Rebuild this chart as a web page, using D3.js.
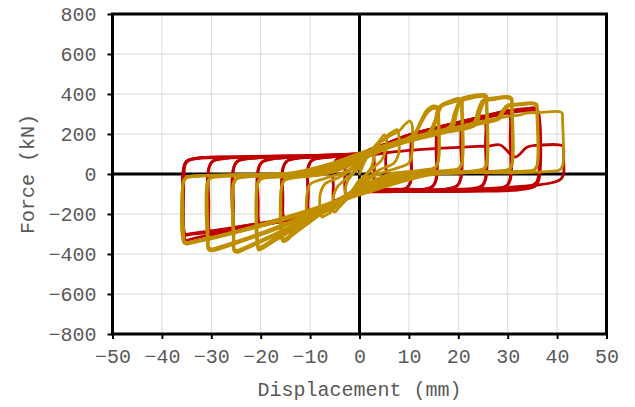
<!DOCTYPE html>
<html>
<head>
<meta charset="utf-8">
<script src="https://cdn.jsdelivr.net/npm/d3@7"></script>
<style>
  html, body { margin: 0; padding: 0; background: #fff; }
  svg { display: block; font-family: "Liberation Mono", "Courier New", monospace; }
</style>
</head>
<body>
<svg id="chart" width="635" height="407"></svg>
<script>
// Axis ticks
const xTicks = [-50, -40, -30, -20, -10, 0, 10, 20, 30, 40, 50];
const yTicks = [-800, -600, -400, -200, 0, 200, 400, 600, 800];

// Specimen A (red): displacement (mm), force (kN), one array per cycle
const redLoops = [
  [[0,95],[1.5,115],[2.5,125],[2.8,110],[2.8,-40],[2,-80],[0,-90],[-1.5,-110],[-2.5,-120],[-2.8,-105],[-2.8,40],[-2,80],[0,95]],
  [[0,95],[3,125],[4.5,138],[5.2,132],[5.3,60],[5.3,-40],[4.5,-75],[2,-87],[0,-90],[-3,-122],[-4.5,-140],[-5.2,-135],[-5.3,-60],[-5.3,40],[-4.5,75],[-2,86],[0,95]],
  [[0,95],[4,135],[8,178],[9.6,192],[10.3,185],[10.4,100],[10.4,-30],[9.6,-68],[7,-82],[0,-90],[-4,-130],[-8,-182],[-9.6,-198],[-10.3,-190],[-10.4,-100],[-10.4,30],[-9.6,68],[-7,82],[0,95]],
  [[0,100],[4,138],[8,172],[9.7,184],[10.3,176],[10.4,90],[10.4,-35],[9.5,-72],[6.5,-86],[0,-94],[-4,-135],[-8,-176],[-9.7,-190],[-10.3,-182],[-10.4,-90],[-10.4,35],[-9.5,72],[-6.5,86],[0,100]],
  [[0,95],[4,135],[10,195],[13.5,218],[15,226],[15.4,215],[15.5,120],[15.5,-25],[14.8,-62],[12.5,-78],[6,-86],[0,-90],[-4,-130],[-10,-200],[-13.5,-222],[-15,-232],[-15.4,-220],[-15.5,-120],[-15.5,25],[-14.8,62],[-12.5,78],[-6,86],[0,95]],
  [[0,100],[5,140],[10,186],[14,210],[15.2,214],[15.5,200],[15.5,-30],[14.6,-66],[12,-82],[5,-89],[0,-93],[-5,-142],[-10,-190],[-14,-214],[-15.2,-220],[-15.5,-205],[-15.5,30],[-14.6,66],[-12,82],[-5,90],[0,100]],
  [[0,95],[4,135],[10,195],[15,228],[18.5,250],[20,258],[20.4,245],[20.5,150],[20.5,-20],[19.8,-58],[17.5,-76],[10,-85],[0,-90],[-4,-130],[-10,-200],[-15,-232],[-18.5,-250],[-20,-258],[-20.4,-245],[-20.5,-150],[-20.5,20],[-19.8,58],[-17.5,76],[-10,86],[0,95]],
  [[0,100],[5,140],[10,190],[15,222],[19,245],[20.2,248],[20.5,230],[20.5,-25],[19.6,-62],[16,-80],[5,-88],[0,-92],[-5,-140],[-10,-192],[-15,-226],[-19,-246],[-20.2,-250],[-20.5,-230],[-20.5,25],[-19.6,62],[-16,80],[-5,90],[0,100]],
  [[0,95],[4,135],[10,195],[15,228],[20,258],[23.5,280],[25,290],[25.5,275],[25.5,150],[25.5,-20],[24.8,-58],[22,-76],[12,-84],[0,-90],[-4,-130],[-10,-200],[-15,-232],[-20,-256],[-23.5,-270],[-25,-278],[-25.4,-265],[-25.5,-150],[-25.5,25],[-24.8,62],[-22,78],[-12,86],[0,95]],
  [[0,102],[5,142],[10,188],[15,220],[20,250],[24,272],[25.2,278],[25.5,260],[25.5,-30],[24.5,-68],[21,-82],[10,-88],[0,-93],[-5,-140],[-10,-192],[-15,-225],[-20,-248],[-24,-262],[-25.2,-268],[-25.5,-250],[-25.5,30],[-24.5,66],[-21,80],[-10,88],[0,102]],
  [[0,95],[4,135],[10,195],[15,228],[20,258],[25,288],[28.5,310],[30,320],[30.5,305],[30.5,180],[30.5,-20],[29.8,-58],[27,-76],[15,-84],[0,-90],[-4,-130],[-10,-200],[-15,-232],[-20,-256],[-25,-278],[-28.5,-295],[-30,-302],[-30.4,-290],[-30.5,-150],[-30.5,25],[-29.8,62],[-27,78],[-15,86],[0,95]],
  [[0,100],[5,142],[10,190],[15,222],[20,252],[25,280],[29,300],[30.2,305],[30.5,285],[30.5,-30],[29.5,-68],[26,-82],[12,-88],[0,-93],[-5,-140],[-10,-194],[-15,-226],[-20,-250],[-25,-270],[-29,-286],[-30.2,-292],[-30.5,-275],[-30.5,30],[-29.5,68],[-26,82],[-12,90],[0,100]],
  [[0,95],[4,135],[10,195],[15,228],[20,258],[25,288],[30,315],[34,328],[35.6,330],[36.2,312],[36.3,200],[36.3,0],[35.8,-42],[34.5,-62],[31,-76],[20,-84],[10,-87],[0,-90],[-4,-130],[-10,-200],[-15,-232],[-20,-256],[-25,-278],[-30,-302],[-34,-325],[-35.2,-332],[-35.5,-305],[-35.5,0],[-35.3,45],[-34.5,70],[-32,82],[-25,86],[-15,90],[0,95]],
  [[0,100],[5,142],[10,190],[15,222],[20,252],[25,280],[30,306],[34.5,318],[35.8,318],[36.3,295],[36.3,-30],[35.5,-62],[32,-80],[20,-87],[0,-93],[-5,-140],[-10,-194],[-15,-226],[-20,-250],[-25,-270],[-30,-290],[-34.2,-302],[-35.3,-305],[-35.6,-280],[-35.6,30],[-35,65],[-32.5,80],[-22,86],[-10,92],[0,100]],
  [[0,85],[5,105],[10,118],[16,128],[22,136],[26,140],[28.5,145],[31.5,85],[34,135],[37,145],[40.3,146],[41.2,138],[41.3,80],[41.3,0],[40.8,-25],[39.5,-40],[36,-55],[28,-70],[18,-78],[0,-85],[-5,-135],[-10,-190],[-15,-222],[-20,-246],[-25,-266],[-30,-285],[-34.2,-298],[-35.3,-300],[-35.6,-270],[-35.6,30],[-35,62],[-32.5,78],[-22,84],[-10,88],[0,92]]
];

// Specimen B (gold): displacement (mm), force (kN), one array per cycle
const goldLoops = [
  [[0,0],[1,60],[2,100],[2.7,120],[2.9,100],[2.5,40],[1,-10],[0,-30],[-1,-65],[-2,-100],[-2.7,-115],[-2.9,-95],[-2.5,-40],[-1,10],[0,30]],
  [[0,40],[2,110],[3.5,150],[4.3,175],[5,195],[5.4,185],[5.3,120],[4.5,70],[3,35],[0,-40],[-2,-110],[-3.5,-150],[-4.3,-172],[-5,-190],[-5.4,-180],[-5.3,-115],[-4.5,-65],[-3,-30],[0,40]],
  [[0,50],[2.5,120],[4,160],[5,170],[6,200],[7,215],[7.6,222],[7.9,205],[7.9,100],[7,55],[4,20],[0,-50],[-2.5,-118],[-4,-155],[-5,-168],[-6,-195],[-7,-208],[-7.6,-215],[-7.9,-198],[-7.9,-95],[-7,-50],[-4,-15],[0,50]],
  [[0,60],[3,125],[5,175],[6.5,195],[8,215],[9.3,250],[10.2,265],[10.6,250],[10.6,100],[10,55],[7,25],[3,-10],[0,-60],[-3,-125],[-5,-170],[-6.5,-185],[-8,-200],[-9.3,-220],[-10.2,-232],[-10.6,-218],[-10.6,-95],[-10,-52],[-7,-22],[-3,10],[0,60]],
  [[0,70],[4,120],[8,160],[11,200],[12.5,270],[13.5,315],[15,340],[15.8,335],[16,300],[16,70],[15.4,35],[13,20],[8,5],[3,-30],[0,-70],[-5,-150],[-10,-240],[-13.5,-305],[-14.8,-333],[-15.5,-338],[-15.8,-320],[-15.8,-65],[-15.2,-32],[-13,-18],[-8,-5],[-3,30],[0,70]],
  [[0,65],[4,112],[8,150],[11,190],[12.5,255],[13.7,305],[15,328],[15.8,322],[15.9,290],[15.9,60],[15.3,30],[13,16],[8,2],[3,-35],[0,-65],[-5,-140],[-10,-228],[-13.5,-292],[-14.8,-320],[-15.5,-325],[-15.7,-305],[-15.7,-58],[-15.1,-28],[-13,-15],[-8,-2],[-3,35],[0,65]],
  [[0,80],[5,130],[10,170],[14,200],[15.5,280],[16.3,340],[18,362],[20,378],[20.7,372],[20.8,330],[20.8,60],[20.2,30],[18,18],[12,8],[5,-25],[0,-80],[-6,-170],[-12,-258],[-17,-332],[-19.6,-372],[-20.4,-380],[-20.7,-358],[-20.7,-55],[-20.1,-28],[-18,-16],[-12,-6],[-5,25],[0,80]],
  [[0,85],[5,138],[10,178],[14,210],[15.3,270],[16,330],[18,352],[20,365],[20.6,360],[20.7,320],[20.7,55],[20.1,26],[18,15],[12,5],[5,-30],[0,-85],[-6,-172],[-12,-255],[-17,-325],[-19.6,-362],[-20.4,-370],[-20.6,-350],[-20.6,-50],[-20,-24],[-18,-13],[-12,-3],[-5,30],[0,85]],
  [[0,75],[5,125],[10,165],[14,195],[15.7,275],[16.5,335],[18,355],[20,372],[20.7,366],[20.7,320],[20.7,50],[20,25],[17,15],[11,10],[6,0],[0,-75],[-6,-160],[-12,-245],[-17,-318],[-19.6,-360],[-20.4,-368],[-20.6,-345],[-20.6,-45],[-20,-22],[-17,-15],[-11,-12],[-6,5],[0,75]],
  [[0,90],[5,135],[10,172],[15,205],[18.5,240],[19.5,320],[20.5,375],[22,388],[25,398],[25.7,392],[25.8,350],[25.8,55],[25.2,28],[23,16],[16,8],[8,-15],[0,-90],[-7,-180],[-14,-270],[-20,-340],[-23.5,-380],[-24.8,-392],[-25.4,-385],[-25.5,-345],[-25.5,-50],[-24.9,-25],[-22.5,-14],[-16,-5],[-8,15],[0,90]],
  [[0,95],[5,142],[10,180],[15,212],[18.2,235],[19.3,310],[20.3,362],[22,375],[25,388],[25.6,382],[25.7,340],[25.7,50],[25.1,24],[23,13],[16,5],[8,-20],[0,-95],[-7,-182],[-14,-268],[-20,-335],[-23.5,-373],[-24.8,-384],[-25.3,-378],[-25.4,-335],[-25.4,-45],[-24.8,-22],[-22.5,-11],[-16,-2],[-8,20],[0,95]],
  [[0,85],[5,128],[10,166],[15,200],[18.8,235],[19.8,320],[20.8,370],[22.5,382],[25,392],[25.7,386],[25.7,345],[25.7,45],[25,20],[22,12],[16,10],[10,0],[0,-85],[-7,-175],[-14,-262],[-20,-332],[-23.5,-370],[-24.8,-382],[-25.4,-376],[-25.5,-335],[-25.5,-40],[-24.8,-20],[-22,-12],[-16,-10],[-10,2],[0,85]],
  [[0,95],[6,140],[12,180],[18,215],[23,250],[24,320],[25,370],[27,380],[30,388],[30.8,380],[30.9,340],[30.9,50],[30.3,25],[28,15],[20,8],[10,-10],[0,-95],[-8,-180],[-16,-265],[-23,-330],[-28,-372],[-29.8,-384],[-30.6,-378],[-30.8,-335],[-30.8,-45],[-30.2,-22],[-28,-13],[-20,-5],[-10,12],[0,95]],
  [[0,100],[6,148],[12,188],[18,222],[23,255],[24.2,318],[25.2,362],[27,372],[30,380],[30.7,372],[30.8,330],[30.8,45],[30.2,22],[28,12],[20,5],[10,-14],[0,-100],[-8,-185],[-16,-268],[-23,-328],[-28,-366],[-29.8,-377],[-30.5,-372],[-30.7,-330],[-30.7,-40],[-30.1,-19],[-28,-10],[-20,-2],[-10,15],[0,100]],
  [[0,90],[6,135],[12,175],[18,210],[23.5,245],[24.5,318],[25.5,365],[27.5,375],[30,383],[30.7,376],[30.8,335],[30.8,40],[30.1,18],[27,10],[20,9],[12,0],[0,-90],[-8,-175],[-16,-258],[-23,-322],[-28,-362],[-29.8,-374],[-30.5,-368],[-30.6,-325],[-30.6,-35],[-30,-16],[-27,-9],[-20,-8],[-12,0],[0,90]],
  [[0,100],[6,145],[12,185],[18,220],[24,255],[28,280],[29,320],[30,345],[32,350],[35.2,356],[35.9,348],[36,310],[36,45],[35.4,22],[33,14],[25,8],[12,-5],[0,-100],[-10,-182],[-20,-258],[-28,-312],[-33,-340],[-35,-350],[-35.6,-342],[-35.7,-300],[-35.7,-40],[-35.1,-18],[-33,-10],[-25,-3],[-12,8],[0,100]],
  [[0,95],[6,140],[12,180],[18,214],[24,248],[28.3,275],[29.3,318],[30.3,340],[32,344],[35.2,350],[35.8,342],[35.9,300],[35.9,40],[35.2,18],[32,10],[25,9],[15,2],[0,-95],[-10,-178],[-20,-252],[-28,-305],[-33,-333],[-35,-344],[-35.5,-336],[-35.6,-295],[-35.6,-35],[-35,-15],[-32,-8],[-25,-6],[-15,0],[0,95]],
  [[0,105],[6,150],[12,190],[18,225],[24,258],[30,288],[32.5,295],[33.8,305],[37,308],[40.3,312],[41,305],[41.1,270],[41.1,40],[40.5,20],[38,12],[30,6],[15,-2],[0,-105],[-10,-188],[-20,-262],[-28,-308],[-33,-332],[-35.2,-342],[-35.7,-330],[-35.7,-50],[-35.2,-22],[-33,-12],[-25,-4],[-12,10],[0,105]]
];

const svg = d3.select("#chart");
const x = d3.scaleLinear().domain([-50, 50]).range([112.5, 606.5]);
const y = d3.scaleLinear().domain([-800, 800]).range([334, 14]);

// Gridlines
const grid = svg.append("g").attr("stroke", "#d9d9d9").attr("stroke-width", 1);
grid.selectAll("line.v").data(xTicks).join("line")
  .attr("x1", d => x(d)).attr("x2", d => x(d)).attr("y1", y(800)).attr("y2", y(-800));
grid.selectAll("line.h").data(yTicks).join("line")
  .attr("y1", d => y(d)).attr("y2", d => y(d)).attr("x1", x(-50)).attr("x2", x(50));

// Zero lines
svg.append("line").attr("x1", x(0)).attr("x2", x(0)).attr("y1", y(800)).attr("y2", y(-800))
  .attr("stroke", "#000").attr("stroke-width", 3);
svg.append("line").attr("x1", x(-50)).attr("x2", x(50)).attr("y1", y(0)).attr("y2", y(0))
  .attr("stroke", "#000").attr("stroke-width", 3);

// Axes
const yAxis = svg.append("g").attr("transform", `translate(${x(-50)},0)`)
  .call(d3.axisLeft(y).tickValues(yTicks).tickSize(5).tickPadding(11).tickFormat(d3.format("d")));
const xAxis = svg.append("g").attr("transform", `translate(0,${y(-800)})`)
  .call(d3.axisBottom(x).tickValues(xTicks).tickSize(5).tickPadding(10).tickFormat(d3.format("d")));
[yAxis, xAxis].forEach(g => {
  g.select(".domain").remove();
  g.selectAll(".tick line").attr("stroke", "#000").attr("stroke-width", 2);
  g.selectAll(".tick text").attr("fill", "#595959")
    .style("font-family", '"Liberation Mono", "Courier New", monospace').style("font-size", "20px");
});

// Plot frame
svg.append("rect").attr("x", x(-50)).attr("y", y(800))
  .attr("width", x(50) - x(-50)).attr("height", y(-800) - y(800))
  .attr("fill", "none").attr("stroke", "#000").attr("stroke-width", 3);

// Hysteresis curves
const line = d3.line().x(d => x(d[0])).y(d => y(d[1])).curve(d3.curveCatmullRom.alpha(0.5));
const series = [
  { loops: redLoops, color: "#C00000" },
  { loops: goldLoops, color: "#BF8F00" }
];
series.forEach(s => {
  svg.append("g").selectAll("path").data(s.loops).join("path")
    .attr("d", line).attr("fill", "none").attr("stroke", s.color)
    .attr("stroke-width", 2.8).attr("stroke-linejoin", "round").attr("stroke-linecap", "round");
});

// Axis titles
svg.append("text").attr("x", (x(-50) + x(50)) / 2).attr("y", 396)
  .attr("text-anchor", "middle").attr("fill", "#595959").style("font-size", "20px")
  .text("Displacement (mm)");
svg.append("text").attr("transform", `translate(34,${y(0)}) rotate(-90)`)
  .attr("text-anchor", "middle").attr("fill", "#595959").style("font-size", "20px")
  .text("Force (kN)");
</script>
</body>
</html>
